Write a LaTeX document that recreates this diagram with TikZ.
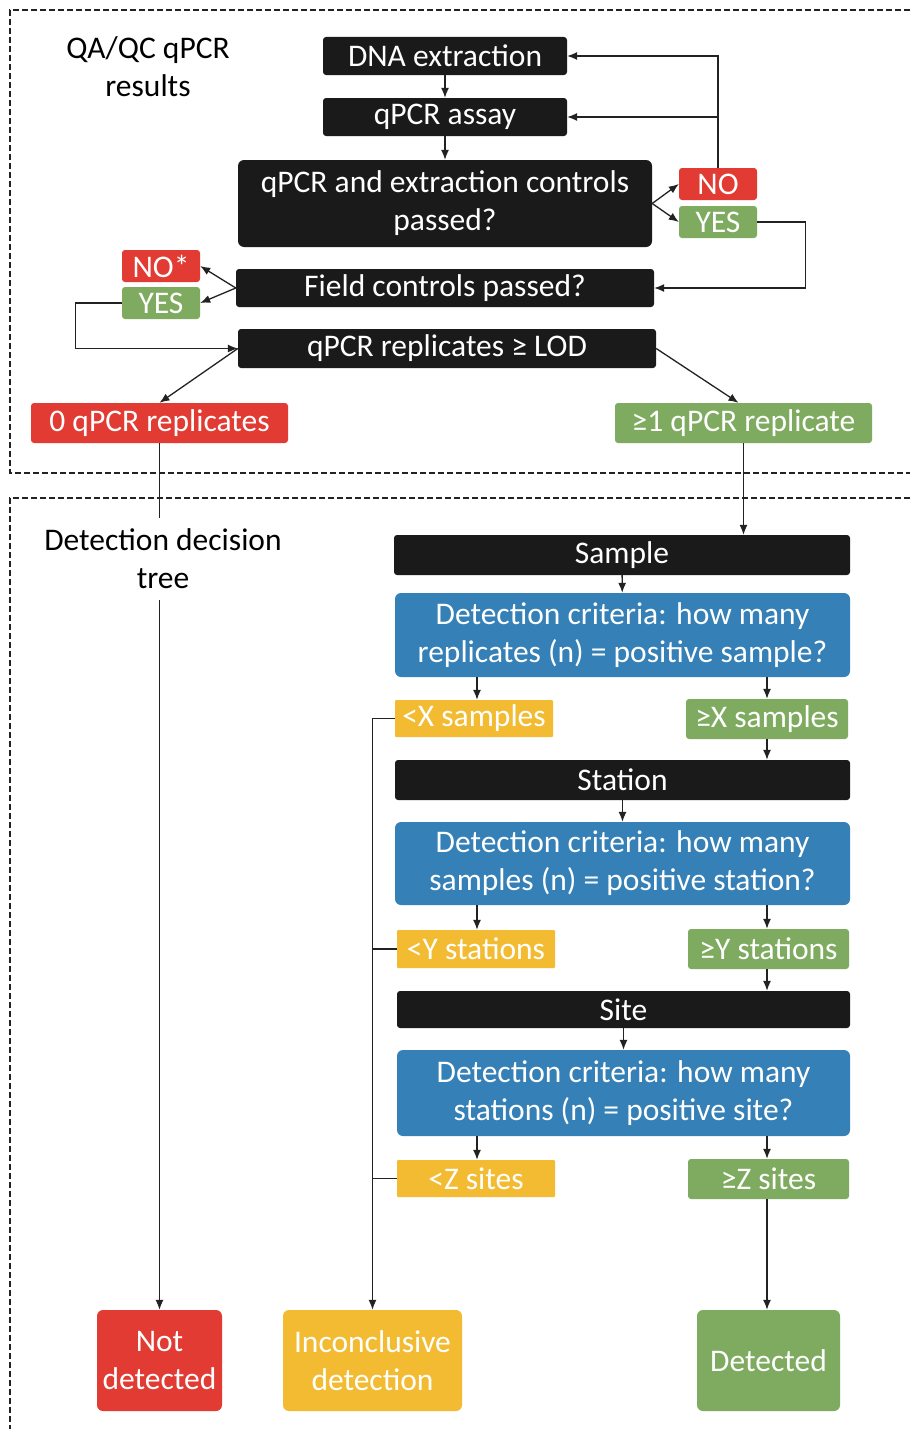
\documentclass[tikz,border=0pt]{standalone}
\usepackage{fontspec}
\setmainfont{Carlito}
\usetikzlibrary{arrows.meta,calc}
\definecolor{cblack}{HTML}{1A1A1A}
\definecolor{cred}{HTML}{E23B33}
\definecolor{cgreen}{HTML}{7EAB5F}
\definecolor{cyellow}{HTML}{F2BB32}
\definecolor{cblue}{HTML}{3580B6}
\definecolor{cline}{HTML}{222222}
\begin{document}
\begin{tikzpicture}[x=1pt,y=-1pt,
  lbl/.style={font=\fontsize{31.5}{38}\selectfont, align=center, inner sep=0pt},
  bx/.style={lbl, rectangle, rounded corners=3pt, text=white, minimum width=#1},
  blk/.style={bx=#1, fill=cblack},
  redb/.style={bx=#1, fill=cred},
  grnb/.style={bx=#1, fill=cgreen},
  yelb/.style={bx=#1, fill=cyellow},
  blub/.style={bx=#1, fill=cblue, rounded corners=6pt},
  arr/.style={draw=cline, line width=1.3pt, -{Latex[length=10pt,width=8pt]}},
  ln/.style={draw=cline, line width=1.3pt},
  dashbox/.style={draw=cline, line width=2.3pt, dash pattern=on 6pt off 3pt}
]
\useasboundingbox (0,0) rectangle (910,1429);
% dashed frames
\draw[dashbox] (910,10) -- (10,10) -- (10,473) -- (910,473);
\draw[dashbox] (910,498) -- (10,498) -- (10,1429);

% upper section
\node[lbl] (qaqc) at (148,67) {QA/QC qPCR\\results};
\node[blk=244pt, minimum height=38pt] (dna) at (445,56) {DNA extraction};
\node[blk=244pt, minimum height=38pt] (assay) at (445,117) {qPCR assay};
\node[blk=414pt, minimum height=87pt, rounded corners=6pt] (ctrl) at (445,203.5) {qPCR and extraction controls\\passed?};
\node[redb=78pt, minimum height=32pt] (no1) at (718,184) {NO};
\node[grnb=78pt, minimum height=32pt] (yes1) at (718,222) {YES};
\node[blk=418pt, minimum height=38pt] (field) at (445,288) {Field controls passed?};
\node[redb=78pt, minimum height=32pt] (nostar) at (161,266) {NO*};
\node[grnb=78pt, minimum height=32pt] (yes2) at (161,303) {YES};
\node[blk=418pt, minimum height=39pt] (lod) at (447,348.5) {qPCR replicates ≥ LOD};
\node[redb=257pt, minimum height=40pt] (zero) at (159.5,423) {0 qPCR replicates};
\node[grnb=257pt, minimum height=40pt] (one) at (743.5,423) {≥1 qPCR replicate};

% lower section
\node[lbl, minimum height=82pt] (dtree) at (163,559) {Detection decision\\tree};
\node[blk=456pt, minimum height=40pt] (sample) at (622,555) {Sample};
\node[blub=455pt, minimum height=84pt] (crit1) at (622.5,635) {Detection criteria: how many\\replicates (n) = positive sample?};
\node[yelb=158pt, minimum height=37pt, rounded corners=1pt] (ltx) at (474,718.5) {<X samples};
\node[grnb=162pt, minimum height=40pt] (gex) at (767,719) {≥X samples};
\node[blk=455pt, minimum height=40pt] (station) at (622.5,780) {Station};
\node[blub=455pt, minimum height=83pt] (crit2) at (622.5,863.5) {Detection criteria: how many\\samples (n) = positive station?};
\node[yelb=158pt, minimum height=38pt, rounded corners=1pt] (lty) at (476,949) {<Y stations};
\node[grnb=161pt, minimum height=40pt] (gey) at (768.5,949) {≥Y stations};
\node[blk=453pt, minimum height=37pt] (site) at (623.5,1009.5) {Site};
\node[blub=453pt, minimum height=86pt] (crit3) at (623.5,1093) {Detection criteria: how many\\stations (n) = positive site?};
\node[yelb=158pt, minimum height=37pt, rounded corners=1pt] (ltz) at (476,1178.5) {<Z sites};
\node[grnb=161pt, minimum height=40pt] (gez) at (768.5,1179) {≥Z sites};
\node[redb=125pt, minimum height=101pt, rounded corners=6pt] (notdet) at (159.5,1360.5) {Not\\detected};
\node[yelb=179pt, minimum height=101pt, rounded corners=6pt] (incon) at (372.5,1360.5) {Inconclusive\\detection};
\node[grnb=143pt, minimum height=101pt, rounded corners=6pt] (det) at (768.5,1360.5) {Detected};

% connectors upper
\draw[arr] (dna) -- (assay);
\draw[arr] (assay) -- (ctrl);
\draw[arr] (ctrl.east) -- (no1.west);
\draw[arr] (ctrl.east) -- (yes1.west);
\draw[arr] (no1.north) |- (dna.east);
\draw[arr] (no1.north |- assay.east) -- (assay.east);
\draw[arr] (yes1.east) -- ++(48,0) |- (field.east);
\draw[arr] (field.west) -- (nostar.east);
\draw[arr] (field.west) -- (yes2.east);
\draw[arr] (yes2.west) -- ++(-46,0) |- (lod.west);
\draw[arr] (lod.west) -- (zero.north);
\draw[arr] (lod.east) -- ($(one.north)+(-5,0)$);

% connectors lower
\draw[ln] (zero.south) -- (zero.south |- dtree.north);
\draw[arr] (zero.south |- dtree.south) -- (notdet.north);
\draw[arr] (one.south) -- (one.south |- sample.north);
\draw[arr] (sample) -- (crit1);
\draw[arr] (crit1.south -| ltx.north) ++(3,0) -- ($(ltx.north)+(3,0)$);
\draw[arr] (crit1.south -| gex.north) -- (gex.north);
\draw[arr] (gex.south) -- (gex.south |- station.north);
\draw[arr] (station) -- (crit2);
\draw[arr] (crit2.south -| ltx.north) ++(3,0) -- ($(lty.north)+(1,0)$);
\draw[arr] (crit2.south -| gex.north) -- (gex.north |- gey.north);
\draw[arr] (gey.south -| gex.south) -- (gex.south |- site.north);
\draw[arr] (site) -- (crit3);
\draw[arr] (crit3.south -| ltx.north) ++(3,0) -- ($(ltz.north)+(1,0)$);
\draw[arr] (crit3.south -| gex.north) -- (gex.north |- gez.north);
\draw[arr] (gez.south -| gex.south) -- (gex.south |- det.north);
\draw[arr] (ltx.west) -| (incon.north);
\draw[ln] (lty.west) -- (lty.west -| incon.north);
\draw[ln] (ltz.west) -- (ltz.west -| incon.north);
\end{tikzpicture}
\end{document}
